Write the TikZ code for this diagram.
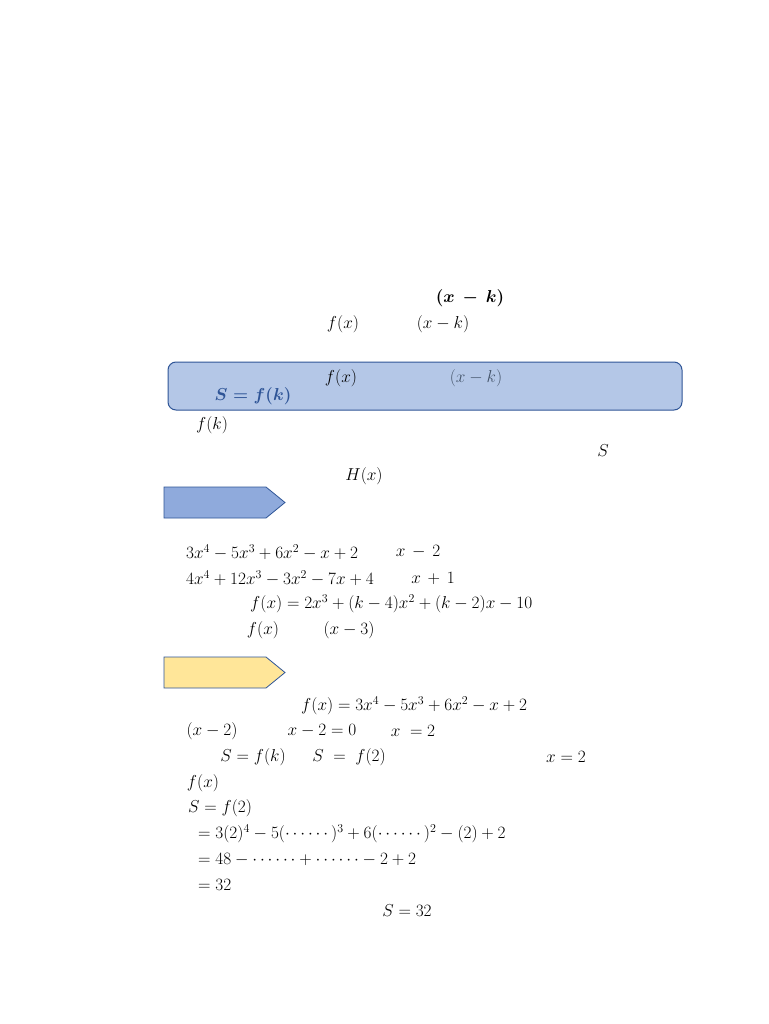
\documentclass[tikz,border=0pt]{standalone}
\usepackage{amsmath}
\usetikzlibrary{shapes.geometric}
\definecolor{boxblue}{HTML}{B4C7E7}
\definecolor{edgeblue}{HTML}{2F5597}
\definecolor{arrblue}{HTML}{8FAADC}
\definecolor{arryel}{HTML}{FFE699}
\definecolor{greyblue}{HTML}{44546A}
\begin{document}
\begin{tikzpicture}[x=1pt,y=-1pt,
  t/.style={inner sep=0pt,font=\fontsize{17.5}{20}\selectfont},
  tl/.style={t,anchor=west}]
\useasboundingbox (0,0) rectangle (768,1024);
\fill[white] (0,0) rectangle (768,1024);
\node[t] (a1) at (470,298) {$\boldsymbol{(x\,-\,k)}$};
\node[t] (a2) at (343,324) {$f(x)$};
\node[t] (a3) at (443,324) {$(x-k)$};
\draw[edgeblue,fill=boxblue,rounded corners=8pt,line width=1pt] (168,362) rectangle (682,410);
\node[t] (b1) at (341,378) {$f(x)$};
\node[t,text=greyblue] (b2) at (476,378) {$(x-k)$};
\node[t,text=edgeblue] (b3) at (253,396) {$\boldsymbol{S=f(k)}$};
\node[t] (c1) at (212,425) {$f(k)$};
\node[t] (c2) at (603,451) {$S$};
\node[t] (c3) at (364,476) {$H(x)$};
\draw[edgeblue,fill=arrblue,line width=0.8pt] (164,487) -- (266,487) -- (285,502.5) -- (266,518) -- (164,518) -- cycle;
\node[tl] (d1) at (186,552) {$3x^4-5x^3+6x^2-x+2$};
\node[t] (d2) at (418,552) {$x\,-\,2$};
\node[tl] (d3) at (186,578) {$4x^4+12x^3-3x^2-7x+4$};
\node[t] (d4) at (433,578) {$x\,+\,1$};
\node[tl] (d5) at (250,604) {$f(x)=2x^3+(k-4)x^2+(k-2)x-10$};
\node[t] (d6) at (263,630) {$f(x)$};
\node[t] (d7) at (349,630) {$(x-3)$};
\draw[edgeblue,fill=arryel,line width=0.8pt] (164,657) -- (266,657) -- (285,672.5) -- (266,688) -- (164,688) -- cycle;
\node[tl] (e1) at (301,706) {$f(x)=3x^4-5x^3+6x^2-x+2$};
\node[t] (e2) at (212,731) {$(x-2)$};
\node[t] (e3) at (322,731) {$x-2=0$};
\node[t] (e4) at (413,731) {$x\;=2$};
\node[t] (e5) at (253,757) {$S=f(k)$};
\node[t] (e6) at (349,757) {$S\;=\;f(2)$};
\node[t] (e7) at (566,757) {$x=2$};
\node[t] (e8) at (203,783) {$f(x)$};
\node[tl] (f1) at (188,808) {$S=f(2)$};
\node[tl] (f2) at (198,834) {$=3(2)^4-5(\cdots\cdots)^3+6(\cdots\cdots)^2-(2)+2$};
\node[tl] (f3) at (198,860) {$=48-\cdots\cdots+\cdots\cdots-2+2$};
\node[tl] (f4) at (198,885) {$=32$};
\node[t] (f5) at (407,911) {$S=32$};
\end{tikzpicture}
\end{document}
